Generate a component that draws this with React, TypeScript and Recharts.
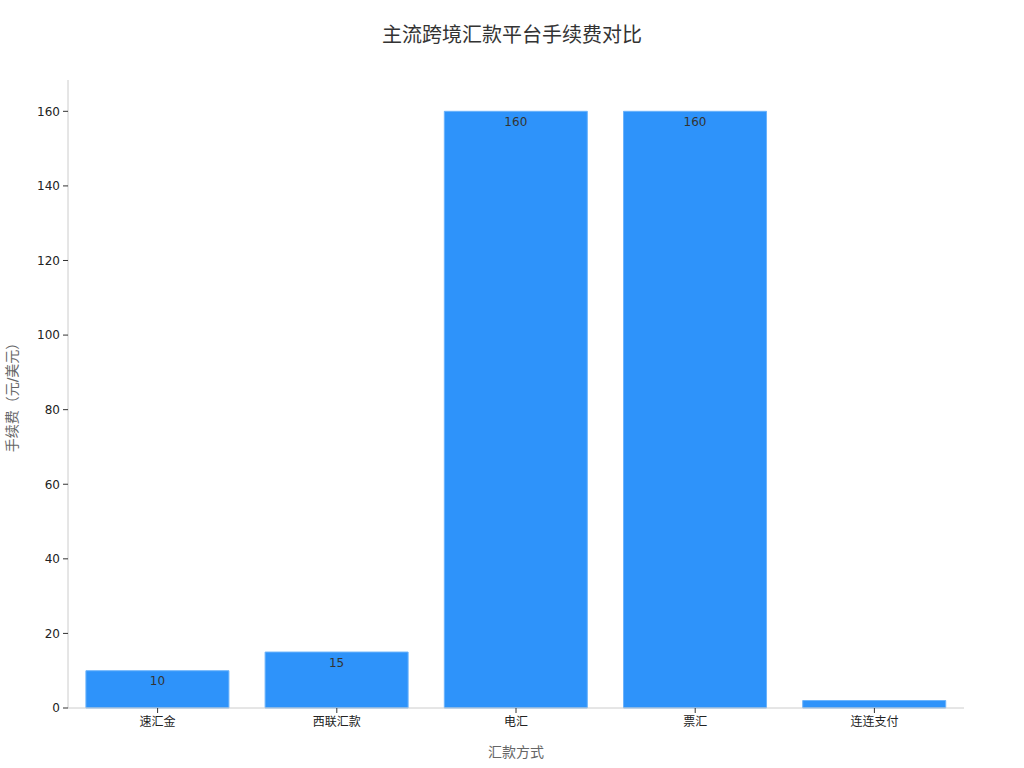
import { BarChart, Bar, XAxis, YAxis, LabelList } from 'recharts';

const methods = ['速汇金', '西联汇款', '电汇', '票汇', '连连支付'];
const fees = [10, 15, 160, 160, 2];
const yTicks = [0, 20, 40, 60, 80, 100, 120, 140, 160];

const data = methods.map((name, i) => ({ name, fee: fees[i] }));

const font = '"DejaVu Sans", "Noto Sans CJK SC", sans-serif';

export default function App() {
  return (
    <div style={{ position: 'absolute', left: 0, top: 0, width: 1024, height: 768, background: '#fff', fontFamily: font }}>
      <div
        style={{
          position: 'absolute',
          top: 19,
          left: 0,
          width: 1024,
          textAlign: 'center',
          fontSize: 20,
          color: '#333',
        }}
      >
        主流跨境汇款平台手续费对比
      </div>
      <BarChart
        width={1024}
        height={768}
        data={data}
        margin={{ top: 80, right: 60, left: 1, bottom: 10 }}
        barCategoryGap="10%"
        style={{ fontFamily: font }}
      >
        <XAxis
          dataKey="name"
          height={50}
          stroke="#ccc"
          tick={{ fill: '#222', fontSize: 12 }}
          tickLine={{ stroke: '#333' }}
          tickSize={5}
          tickMargin={4}
          label={{ value: '汇款方式', position: 'insideBottom', offset: 1, fill: '#666', fontSize: 14 }}
        />
        <YAxis
          width={67}
          domain={[0, 168.4]}
          ticks={yTicks}
          stroke="#ccc"
          tick={{ fill: '#222', fontSize: 12 }}
          tickLine={{ stroke: '#333' }}
          tickSize={5}
          tickMargin={3}
          label={{
            value: '手续费（元/美元）',
            angle: -90,
            position: 'insideLeft',
            offset: 11,
            fill: '#666',
            fontSize: 14,
            style: { textAnchor: 'middle' },
          }}
        />
        <Bar dataKey="fee" fill="#2E93FA" stroke="#6BB3FB" strokeWidth={1} isAnimationActive={false}>
          <LabelList
            dataKey="fee"
            position="insideTop"
            offset={6}
            fill="#333"
            fontSize={12}
            formatter={(v: any) => (v >= 5 ? v : '')}
          />
        </Bar>
      </BarChart>
    </div>
  );
}
